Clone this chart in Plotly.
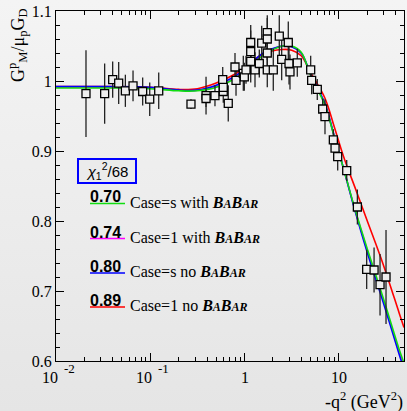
import base64
import math
import plotly.graph_objects as go

# ---------------- data ----------------
q2_pts = [0.0208, 0.0328, 0.0399, 0.0462, 0.0544, 0.0656, 0.083, 0.0986, 0.1228,
          0.270, 0.390, 0.390, 0.485, 0.586, 0.594, 0.594, 0.671,
          0.791, 0.811, 0.969, 0.993, 1.035, 1.161, 1.161, 1.161, 1.289, 1.432,
          1.518, 1.740, 1.740, 1.740, 1.740, 2.015, 2.333, 2.473, 2.906, 2.958,
          3.029, 3.620, 5.02, 5.14, 5.90, 6.73, 7.12, 8.73, 9.10, 9.71, 12.1,
          15.7, 19.7, 23.6, 27.3, 31.6]
g_pts = [0.982, 0.982, 1.002, 0.997, 0.986, 0.993, 0.985, 0.974, 0.986,
         0.967, 0.979, 0.975, 0.979, 1.002, 0.985, 0.991, 0.968,
         1.020, 1.001, 1.011, 1.006, 1.016, 1.028, 1.055, 1.042, 1.016, 1.025,
         1.054, 1.069, 1.060, 1.040, 1.016, 1.016, 1.064, 1.031, 1.055, 1.025,
         1.013, 1.026, 1.016, 1.001, 0.988, 0.960, 0.949, 0.916, 0.904, 0.892, 0.872,
         0.820, 0.731, 0.730, 0.709, 0.720]
err_pts = [0.062, 0.043, 0.026, 0.030, 0.023, 0.022, 0.020, 0.024, 0.026,
           0.007, 0.027, 0.012, 0.015, 0.018, 0.016, 0.012, 0.026,
           0.020, 0.022, 0.025, 0.020, 0.020, 0.030, 0.025, 0.030, 0.025, 0.020,
           0.025, 0.025, 0.030, 0.030, 0.025, 0.030, 0.030, 0.030, 0.030, 0.030,
           0.025, 0.020, 0.020, 0.020, 0.015, 0.015, 0.025, 0.015, 0.015, 0.020, 0.015,
           0.025, 0.028, 0.032, 0.044, 0.067]

q2_curve = [0.01, 0.0316, 0.1, 0.2, 0.316, 0.5, 0.794, 1.0, 1.585, 2.512, 3.162,
            3.981, 5.012, 7.08, 8.91, 11.2, 14.8, 20.0, 29.5, 43.7, 49.0]
curve_s_babar = [0.990, 0.990, 0.989, 0.986, 0.986, 0.991, 1.004, 1.014, 1.037, 1.050, 1.050,
                 1.041, 1.008, 0.966, 0.921, 0.875, 0.817, 0.760, 0.690, 0.616, 0.597]
curve_1_babar = [0.991, 0.991, 0.990, 0.987, 0.987, 0.992, 1.005, 1.015, 1.038, 1.050, 1.049,
                 1.040, 1.009, 0.967, 0.921, 0.875, 0.816, 0.758, 0.687, 0.612, 0.593]
curve_s_nobabar = [0.992, 0.992, 0.991, 0.987, 0.987, 0.994, 1.007, 1.017, 1.040, 1.050, 1.049,
                   1.040, 1.010, 0.968, 0.922, 0.875, 0.815, 0.755, 0.684, 0.609, 0.588]
curve_1_nobabar = [0.992, 0.992, 0.991, 0.988, 0.989, 0.997, 1.010, 1.019, 1.039, 1.045, 1.044,
                   1.036, 1.012, 0.976, 0.935, 0.892, 0.848, 0.800, 0.738, 0.668, 0.648]

chi2_values = ["0.70", "0.74", "0.80", "0.89"]
case_labels = ["Case=s with ", "Case=1 with ", "Case=s no ", "Case=1 no "]
curve_colors = ["#11dd11", "#ff00ff", "#0000ff", "#ff0000"]

x_tick_vals = [0.01, 0.1, 1, 10]
x_tick_base = ["10", "10", "1", "10"]
x_tick_exp = ["-2", "-1", "", ""]

# ---------------- layout geometry ----------------
W, H = 407, 411
ML, MR, MT, MB = 56, 3, 11, 50
PW, PH = W - ML - MR, H - MT - MB


def fx(px):
    return (px - ML) / PW


def fy(py):
    return (H - MB - py) / PH


SERIF = "Liberation Serif, Times New Roman, serif"
SANS = "Liberation Sans, Arial, sans-serif"

fig = go.Figure()

curves = [curve_1_babar, curve_1_nobabar, curve_s_nobabar, curve_s_babar]
cols = [curve_colors[1], curve_colors[3], curve_colors[2], curve_colors[0]]
for ys, c in zip(curves, cols):
    fig.add_trace(go.Scatter(x=q2_curve, y=ys, mode="lines",
                             line=dict(color=c, width=1.6, shape="spline", smoothing=1.0),
                             showlegend=False, hoverinfo="skip"))

fig.add_trace(go.Scatter(
    x=q2_pts, y=g_pts, mode="markers",
    marker=dict(symbol="square", size=8, color="#eeeeee", line=dict(color="black", width=1.3)),
    error_y=dict(type="data", array=err_pts, color="#222222", thickness=1.3, width=0),
    showlegend=False))

# background gradient
svg = ('<svg xmlns="http://www.w3.org/2000/svg" width="407" height="411">'
       '<defs><linearGradient id="g" x1="0" y1="0" x2="0" y2="1">'
       '<stop offset="0" stop-color="#f4f4f4"/><stop offset="1" stop-color="#e5e5e5"/>'
       '</linearGradient></defs><rect width="407" height="411" fill="url(#g)"/></svg>')
src = "data:image/svg+xml;base64," + base64.b64encode(svg.encode()).decode()


def ann(**kw):
    d = dict(showarrow=False, xanchor="center", yanchor="middle")
    d.update(kw)
    return d


annotations = []
# x tick labels
for v, b, e in zip(x_tick_vals, x_tick_base, x_tick_exp):
    lv = math.log10(v)
    if e:
        annotations.append(ann(x=lv, xref="x", y=fy(377), yref="paper", text=b,
                               xshift=-6, font=dict(family=SERIF, size=16, color="black")))
        annotations.append(ann(x=lv, xref="x", y=fy(368), yref="paper", text=e,
                               xshift=13, font=dict(family=SERIF, size=13, color="black")))
    else:
        annotations.append(ann(x=lv, xref="x", y=fy(377), yref="paper", text=b,
                               font=dict(family=SERIF, size=16, color="black")))

# axis titles
annotations.append(ann(x=fx(17), y=fy(45), xref="paper", yref="paper", textangle=-90,
                       text="G<sup>p</sup><sub>M</sub>/μ<sub>p</sub>G<sub>D</sub>",
                       font=dict(family=SERIF, size=18, color="black")))
annotations.append(ann(x=fx(405), y=fy(401), xref="paper", yref="paper", xanchor="right",
                       text="-q<sup>2</sup> (GeV<sup>2</sup>)",
                       font=dict(family=SERIF, size=18, color="black")))

# legend header box
annotations.append(ann(x=fx(107), y=fy(171), xref="paper", yref="paper",
                       text="<i>χ</i><sub>1</sub><sup>2</sup>/68",
                       width=54, height=20, borderpad=1, borderwidth=2, bordercolor="#0000ff",
                       bgcolor="#ebebeb", font=dict(family=SANS, size=15, color="black")))

babar = ('<b><i>B<span style="font-size:12px">A</span>B'
         '<span style="font-size:12px">AR</span></i></b>')
row_y = [197, 232, 266.5, 300.5]
shapes = []
for val, lab, col, yy in zip(chi2_values, case_labels, curve_colors, row_y):
    annotations.append(ann(x=fx(88), y=fy(yy), xref="paper", yref="paper", xanchor="left",
                           text="<b>" + val + "</b>",
                           font=dict(family=SANS, size=16, color="black")))
    annotations.append(ann(x=fx(128), y=fy(yy + 5), xref="paper", yref="paper", xanchor="left",
                           text=lab + babar,
                           font=dict(family=SERIF, size=16, color="black")))
    shapes.append(dict(type="line", xref="paper", yref="paper", x0=fx(90), x1=fx(125),
                       y0=fy(yy + 6.5), y1=fy(yy + 6.5), line=dict(color=col, width=1.5)))

fig.update_layout(
    width=W, height=H,
    margin=dict(l=ML, r=MR, t=MT, b=MB),
    paper_bgcolor="white", plot_bgcolor="rgba(0,0,0,0)",
    images=[dict(source=src, xref="paper", yref="paper", x=-ML / PW, y=1 + MT / PH,
                 sizex=W / PW, sizey=H / PH, xanchor="left", yanchor="top",
                 sizing="stretch", layer="below")],
    annotations=annotations, shapes=shapes,
    xaxis=dict(type="log", range=[-2, -2 + PW / 94.3], showgrid=False, zeroline=False,
               showline=True, linecolor="black", linewidth=1, mirror="allticks",
               ticks="inside", ticklen=8, tickcolor="black", dtick=1, showticklabels=False,
               minor=dict(ticks="inside", ticklen=4, tickcolor="black", dtick="D1", showgrid=False)),
    yaxis=dict(range=[0.6, 1.1], showgrid=False, zeroline=False,
               showline=True, linecolor="black", linewidth=1, mirror="allticks",
               ticks="inside", ticklen=8, tickcolor="black", dtick=0.1,
               tickfont=dict(family=SERIF, size=16, color="black"),
               minor=dict(ticks="inside", ticklen=4, tickcolor="black", dtick=0.02, showgrid=False)),
)

fig.write_html("out.html")
